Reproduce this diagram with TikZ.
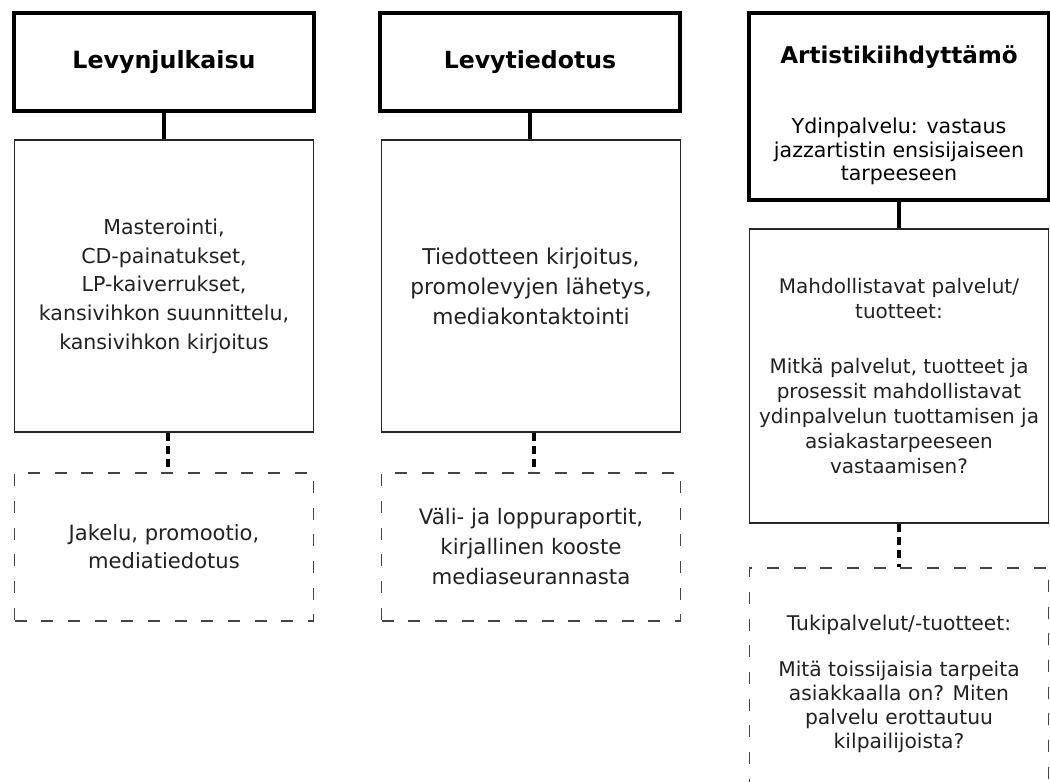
\documentclass[tikz,border=0pt]{standalone}
\usepackage{fontspec}
\setmainfont{DejaVu Sans}
\usetikzlibrary{positioning}
\definecolor{tekstiharmaa}{HTML}{222222}
\definecolor{reunaharmaa}{HTML}{444444}
\newcommand{\otsikkoteksti}[2]{\textbf{\fontsize{#1}{20}\selectfont #2}}

\begin{document}
\begin{tikzpicture}[x=0.75pt, y=-0.75pt,
	otsikko/.style={draw=black, line width=3pt, fill=white, minimum width=225pt, align=center, text=black},
	palvelu/.style={draw=black!85, line width=1.1pt, fill=white, minimum width=224pt, align=center, text=tekstiharmaa},
	tuki/.style={draw=reunaharmaa, line width=1.1pt, dash pattern=on 9pt off 11pt, minimum width=224pt, align=center, text=tekstiharmaa},
	yhteys/.style={line width=3pt},
	katko/.style={line width=3pt, dash pattern=on 6pt off 4pt}]

	% Tausta
	\fill[white] (0,0) rectangle (1050,782);
	\useasboundingbox (0,0) rectangle (1050,782);

	% Levynjulkaisu
	\node[otsikko, minimum height=73.5pt] (julkaisu) at (164,62) {\otsikkoteksti{17.8}{Levynjulkaisu}};
	\node[palvelu, minimum height=219pt, font={\fontsize{15.4}{21.5}\selectfont}] (julkaisupalvelu) at (164,286) {Masterointi,\\CD-painatukset,\\LP-kaiverrukset,\\kansivihkon suunnittelu,\\kansivihkon kirjoitus};
	\node[tuki, minimum height=111pt, font={\fontsize{15.8}{21}\selectfont}] (julkaisutuki) at (164,547) {Jakelu, promootio,\\mediatiedotus};
	\draw[yhteys] (julkaisu.south) -- (julkaisupalvelu.north);
	\draw[katko] ([xshift=3pt]julkaisupalvelu.south) -- ([xshift=3pt]julkaisutuki.north);

	% Levytiedotus
	\node[otsikko, minimum height=73.5pt] (tiedotus) at (530,62) {\otsikkoteksti{17.7}{Levytiedotus}};
	\node[palvelu, minimum height=219pt, font={\fontsize{16.3}{22.5}\selectfont}] (tiedotuspalvelu) at (531,286) {Tiedotteen kirjoitus,\\promolevyjen lähetys,\\mediakontaktointi};
	\node[tuki, minimum height=111pt, font={\fontsize{16}{22.5}\selectfont}] (tiedotustuki) at (531,547) {Väli- ja loppuraportit,\\kirjallinen kooste\\mediaseurannasta};
	\draw[yhteys] (tiedotus.south) -- (tiedotus.south |- tiedotuspalvelu.north);
	\draw[katko] ([xshift=2pt]tiedotuspalvelu.south) -- ([xshift=2pt]tiedotustuki.north);

	% Artistikiihdyttämö
	\node[otsikko, minimum height=140.25pt, font={\fontsize{15.4}{17.6}\selectfont}] (kiihdyttamo) at (899,106.5) {\rule{0pt}{27pt}\otsikkoteksti{17.3}{Artistikiihdyttämö}\\[35pt]Ydinpalvelu: vastaus\\jazzartistin ensisijaiseen\\tarpeeseen};
	\node[palvelu, minimum height=220.5pt, font={\fontsize{15}{18.75}\selectfont}] (kiihdyttamopalvelu) at (899,376) {Mahdollistavat palvelut/\\tuotteet:\\[22pt]Mitkä palvelut, tuotteet ja\\prosessit mahdollistavat\\ydinpalvelun tuottamisen ja\\asiakastarpeeseen\\vastaamisen?};
	\node[tuki, minimum height=174pt, font={\fontsize{15.2}{18}\selectfont}] (kiihdyttamotuki) at (899,684) {Tukipalvelut/-tuotteet:\\[17pt]Mitä toissijaisia tarpeita\\asiakkaalla on? Miten\\palvelu erottautuu\\kilpailijoista?};
	\draw[yhteys] (kiihdyttamo.south) -- (kiihdyttamopalvelu.north);
	\draw[katko] (kiihdyttamopalvelu.south) -- (kiihdyttamotuki.north);

\end{tikzpicture}
\end{document}
